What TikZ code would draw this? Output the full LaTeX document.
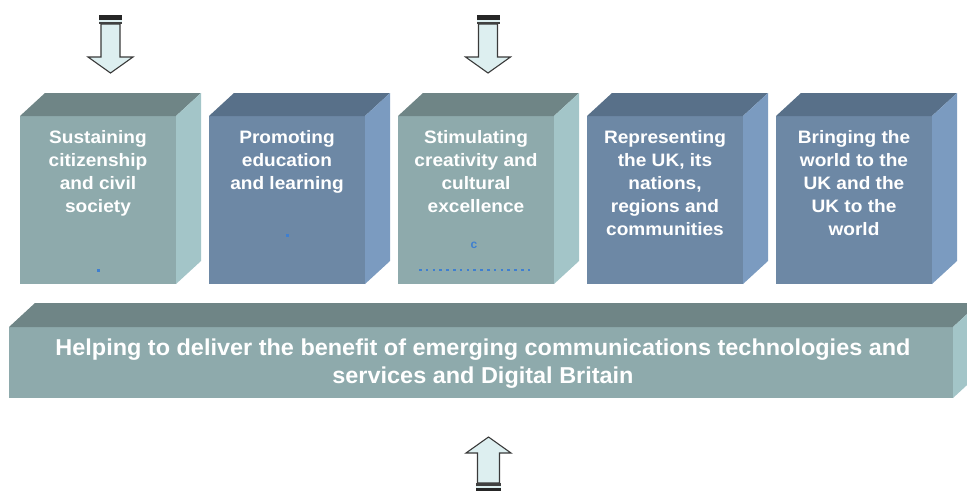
\documentclass[tikz,border=0pt]{standalone}
\usepackage{fontspec}
\setmainfont{Liberation Sans}
\newfontfamily\barfont{Liberation Sans}[FakeStretch=1.02]
\newfontfamily\boxfont{Liberation Sans}[FakeStretch=1.06]
\definecolor{grF}{HTML}{8EAAAC}
\definecolor{grT}{HTML}{6F8586}
\definecolor{grS}{HTML}{A3C5C8}
\definecolor{blF}{HTML}{6D88A5}
\definecolor{blT}{HTML}{587089}
\definecolor{blS}{HTML}{7B9BC0}
\definecolor{dotc}{HTML}{3F7FD0}
\definecolor{arrF}{HTML}{DDEFF0}
\definecolor{arrL}{HTML}{3A3A3A}
\begin{document}
\begin{tikzpicture}[x=1pt,y=-1pt,
  front/.style={minimum width=156pt, minimum height=168pt, inner sep=0pt, outer sep=0pt, anchor=north west, draw=none},
  boxtext/.style={text=white, font=\boxfont\bfseries\fontsize{18}{23}\selectfont, align=center, anchor=north, inner sep=0pt},
  bartext/.style={text=white, font=\barfont\bfseries\fontsize{23}{27.5}\selectfont, align=center, anchor=north, inner sep=0pt},
  arrowbody/.style={fill=arrF, draw=arrL, line width=1.1pt, line join=miter}
]
\useasboundingbox (0,0) rectangle (967,491);
\clip (0,0) rectangle (967,491);

% five cubes
\foreach \i/\x/\c in {1/20/gr,2/209/bl,3/398/gr,4/587/bl,5/776/bl}{
  \node[front, fill=\c F] (b\i) at (\x,116) {};
  \fill[\c T] (b\i.north west) -- ++(25,-23) -- ++(156,0) -- (b\i.north east) -- cycle;
  \fill[\c S] (b\i.north east) -- ++(25,-23) -- ++(0,168) -- (b\i.south east) -- cycle;
}

\node[boxtext] (t1) at (98,130) {Sustaining\\citizenship\\and civil\\society};
\node[boxtext] (t2) at (287,130) {Promoting\\education\\and learning};
\node[boxtext] (t3) at (476,130) {Stimulating\\creativity and\\cultural\\excellence};
\node[boxtext] (t4) at (665,130) {Representing\\the UK, its\\nations,\\regions and\\communities};
\node[boxtext] (t5) at (854,130) {Bringing the\\world to the\\UK and the\\UK to the\\world};

% small blue marks
\fill[dotc] (96.5,268.5) rectangle (99.5,271.5);
\fill[dotc] (285.5,233.5) rectangle (288.5,236.5);
\node[text=dotc, font=\bfseries\fontsize{12}{12}\selectfont, inner sep=0pt] (c3) at (474,245) {c};
\draw[dotc, line width=1.4pt, dash pattern=on 2.5pt off 4.3pt] (419,270) -- (530,270);

% bottom bar
\node[front, minimum width=944pt, minimum height=71pt, fill=grF] (bar) at (9,327) {};
\fill[grT] (bar.north west) -- ++(26,-24) -- ++(944,0) -- (bar.north east) -- cycle;
\fill[grS] (bar.north east) -- ++(26,-24) -- ++(0,71) -- (bar.south east) -- cycle;
\node[bartext] (bt) at (483,339) {Helping to deliver the benefit of emerging communications technologies and\\services and Digital Britain};

% arrows pointing down
\foreach \cx in {110.5,488}{
  \draw[arrowbody] ({\cx-9.5},24) -- ({\cx+9.5},24) -- ({\cx+9.5},57) -- ({\cx+22.5},57) -- (\cx,73) -- ({\cx-22.5},57) -- ({\cx-9.5},57) -- cycle;
  \fill[black!85] ({\cx-11.5},15) rectangle ({\cx+11.5},19.5);
  \fill[arrF] ({\cx-11.5},19.5) rectangle ({\cx+11.5},21.5);
  \fill[black!75] ({\cx-11.5},21.5) rectangle ({\cx+11.5},24);
}
% arrow pointing up
\draw[arrowbody] (477.5,483) -- (499.5,483) -- (499.5,453) -- (511,453) -- (488.5,437) -- (466,453) -- (477.5,453) -- cycle;
\fill[black!75] (476,483) rectangle (501,485.5);
\fill[arrF] (476,485.5) rectangle (501,487.5);
\fill[black!85] (476,487.5) rectangle (501,491);
\end{tikzpicture}
\end{document}
